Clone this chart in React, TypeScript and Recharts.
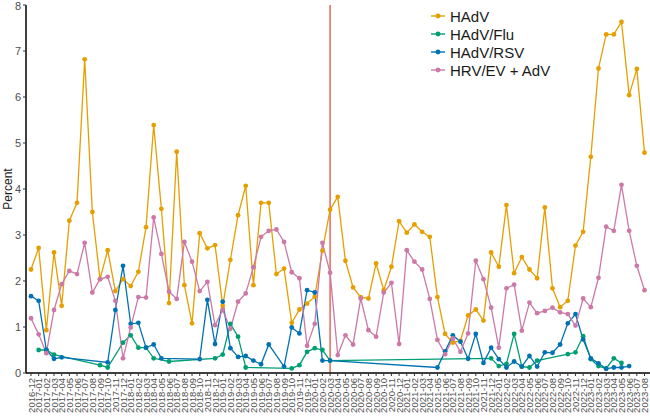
import React from "react";
import {
  LineChart,
  Line,
  XAxis,
  YAxis,
  ReferenceLine,
} from "recharts";

const months = [
  "2016-12",
  "2017-01", "2017-02", "2017-03", "2017-04", "2017-05", "2017-06",
  "2017-07", "2017-08", "2017-09", "2017-10", "2017-11", "2017-12",
  "2018-01", "2018-02", "2018-03", "2018-04", "2018-05", "2018-06",
  "2018-07", "2018-08", "2018-09", "2018-10", "2018-11", "2018-12",
  "2019-01", "2019-02", "2019-03", "2019-04", "2019-05", "2019-06",
  "2019-07", "2019-08", "2019-09", "2019-10", "2019-11", "2019-12",
  "2020-01", "2020-02", "2020-03", "2020-04", "2020-05", "2020-06",
  "2020-07", "2020-08", "2020-09", "2020-10", "2020-11", "2020-12",
  "2021-01", "2021-02", "2021-03", "2021-04", "2021-05", "2021-06",
  "2021-07", "2021-08", "2021-09", "2021-10", "2021-11", "2021-12",
  "2022-01", "2022-02", "2022-03", "2022-04", "2022-05", "2022-06",
  "2022-07", "2022-08", "2022-09", "2022-10", "2022-11", "2022-12",
  "2023-01", "2023-02", "2023-03", "2023-04", "2023-05", "2023-06",
  "2023-07", "2023-08",
];

const hadv = [
  2.25, 2.72, 0.93, 2.62, 1.46, 3.31, 3.7, 6.82, 3.5, 2.04,
  2.67, 1.78, 2.04, 1.89, 2.2, 3.17, 5.39, 3.57, 1.52, 4.81,
  1.91, 1.08, 3.04, 2.71, 2.78, 1.46, 2.46, 3.43, 4.07, 1.91,
  3.7, 3.7, 2.15, 2.27, 1.09, 1.38, 1.51, 1.66, 2.66, 3.55,
  3.83, 2.44, 1.86, 1.65, 1.62, 2.38, 1.8, 2.31, 3.3, 3.05,
  3.23, 3.07, 2.96, 1.65, 0.85, 0.66, 0.7, 1.25, 1.38, 1.14,
  2.62, 2.31, 3.65, 2.17, 2.52, 2.25, 2.06, 3.6, 1.84, 1.43,
  1.57, 2.77, 3.07, 4.7, 6.62, 7.36, 7.36, 7.63, 6.04, 6.61,
  4.79,
];

const hadvFlu = [
  null, 0.5, 0.5, 0.4, null, null, null, null, null, 0.17,
  0.12, null, 0.66, 0.82, 0.55, 0.55, 0.32, null, 0.25, null,
  null, null, null, null, 0.32, 0.4, 1.07, 0.79, 0.12, null,
  null, null, null, null, 0.1, 0.17, 0.46, 0.54, 0.5, 0.27,
  null, null, null, null, null, null, null, null, null, null,
  null, null, null, null, null, null, null, null, null, null,
  0.32, 0.15, 0.2, 0.85, 0.14, 0.12, 0.27, null, null, null,
  0.41, 0.45, 0.8, 0.3, 0.15, 0.1, 0.32, 0.22, null, null,
  null,
];

const hadvRsv = [
  1.67, 1.57, 0.5, 0.31, 0.34, null, null, null, null, null,
  0.23, 1.37, 2.33, 1.07, 1.09, 0.55, 0.62, 0.32, null, null,
  null, null, 0.3, 1.59, 0.63, 1.55, 0.54, 0.35, 0.37, 0.27,
  0.19, 0.62, null, 0.14, 0.99, 0.86, 1.8, 1.75, 0.27, 0.27,
  null, null, null, null, null, null, null, null, null, null,
  null, null, null, 0.12, 0.47, 0.82, 0.68, 0.31, 0.85, 0.22,
  0.55, 0.3, 0.12, 0.25, 0.14, 0.37, 0.14, 0.45, 0.44, 0.62,
  1.08, 1.28, 0.73, 0.32, 0.21, 0.09, 0.12, 0.12, 0.15, null,
  null,
];

const hrvEvAdv = [
  1.19, 0.84, 0.43, 1.37, 1.93, 2.22, 2.15, 2.83, 1.75, 2.04,
  2.09, 1.57, 0.32, 0.99, 1.65, 1.64, 3.38, 2.59, 1.77, 1.61,
  2.85, 2.42, 1.78, 1.98, 1.04, 1.37, 0.96, 1.55, 1.73, 2.3,
  2.96, 3.09, 3.12, 2.85, 2.19, 2.06, 0.59, 1.07, 2.83, 2.18,
  0.39, 0.82, 0.62, 1.62, 0.93, 0.79, 1.75, 1.96, 0.63, 2.67,
  2.42, 2.25, 1.61, 0.72, 0.41, 0.75, 0.46, 0.86, 2.44, 2.04,
  1.42, 0.55, 1.84, 1.92, 0.92, 1.53, 1.3, 1.35, 1.42, 1.32,
  1.28, 1.03, 1.62, 1.43, 2.07, 3.18, 3.09, 4.09, 3.09, 2.33,
  1.8,
];

const yTicks = [0, 1, 2, 3, 4, 5, 6, 7, 8];

const series = [
  { key: "hadv", name: "HAdV", color: "#E69F00" },
  { key: "hadvFlu", name: "HAdV/Flu", color: "#009E73" },
  { key: "hadvRsv", name: "HAdV/RSV", color: "#0072B2" },
  { key: "hrvEvAdv", name: "HRV/EV + AdV", color: "#CC79A7" },
];

const data = months.map((month, i) => ({
  month,
  hadv: hadv[i],
  hadvFlu: hadvFlu[i],
  hadvRsv: hadvRsv[i],
  hrvEvAdv: hrvEvAdv[i],
}));

const font = "Arial, 'Liberation Sans', sans-serif";

const MonthTick = ({ x, y, payload }: any) => (
  <text
    x={x}
    y={y}
    transform={`rotate(-90, ${x}, ${y})`}
    textAnchor="end"
    dominantBaseline="central"
    fontSize={9.5}
    fontFamily={font}
    fill="#4d4d4d"
  >
    {payload.value}
  </text>
);

// legend sits over the top-right corner of the plot
const SeriesLegend = () => (
  <div
    style={{
      position: "absolute",
      left: 428,
      top: 7,
      fontFamily: font,
      pointerEvents: "none",
    }}
  >
    {series.map((s) => (
      <div
        key={s.key}
        style={{ display: "flex", alignItems: "center", height: 18 }}
      >
        <svg width={22} height={18}>
          <line x1={3} x2={17} y1={9} y2={9} stroke={s.color} strokeWidth={1.4} />
          <circle cx={10} cy={9} r={2.4} fill={s.color} />
        </svg>
        <span style={{ fontSize: 15, color: "#1a1a1a" }}>{s.name}</span>
      </div>
    ))}
  </div>
);

export default function App() {
  return (
    <div
      style={{
        position: "fixed",
        left: 0,
        top: 0,
        width: 650,
        height: 419,
        background: "#fff",
      }}
    >
      <LineChart
        width={650}
        height={419}
        data={data}
        margin={{ top: 5, right: 0, bottom: 0, left: 0 }}
      >
        <XAxis
          dataKey="month"
          interval={0}
          height={46}
          tick={<MonthTick />}
          tickSize={3}
          tickMargin={2}
          padding={{ left: 5, right: 5.5 }}
          axisLine={{ stroke: "#000", strokeWidth: 1.5 }}
          tickLine={{ stroke: "#333" }}
        />
        <YAxis
          domain={[0, 8]}
          ticks={yTicks}
          width={26}
          tickSize={3}
          tickMargin={2}
          tick={{ fontSize: 11, fill: "#4d4d4d", fontFamily: font }}
          axisLine={{ stroke: "#000", strokeWidth: 1.5 }}
          tickLine={{ stroke: "#333" }}
          label={{
            value: "Percent",
            angle: -90,
            position: "insideLeft",
            offset: 8,
            style: { fontSize: 12, fill: "#1a1a1a", fontFamily: font, textAnchor: "middle" },
          }}
        />
        <ReferenceLine x="2020-03" stroke="#E0412F" strokeWidth={1.2} />
        {series.map((s) => (
          <Line
            key={s.key}
            dataKey={s.key}
            name={s.name}
            stroke={s.color}
            strokeWidth={1.3}
            dot={{ r: 2.4, fill: s.color, stroke: s.color, strokeWidth: 0 }}
            activeDot={false}
            connectNulls
            isAnimationActive={false}
          />
        ))}
      </LineChart>
      <SeriesLegend />
    </div>
  );
}
